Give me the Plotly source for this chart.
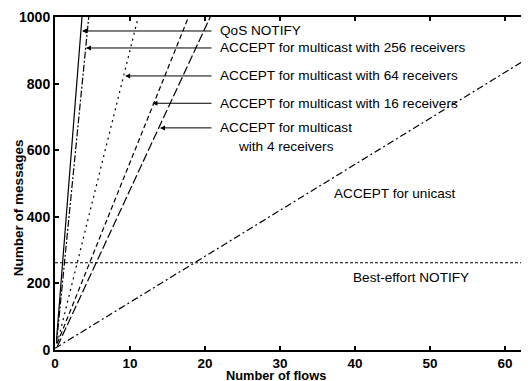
import plotly.graph_objects as go

# Data (Number of flows vs Number of messages)
qos_x = [0.2, 3.6]
qos_y = [30, 1000]
m256_x = [0.2, 4.5]
m256_y = [20, 1000]
m64_x = [0.3, 11.1]
m64_y = [20, 1000]
m16_x = [0.3, 17.8]
m16_y = [20, 1000]
m4_x = [0.3, 20.7]
m4_y = [10, 1000]
uni_x = [0, 63.2]
uni_y = [5, 878]
be_x = [0, 63.2]
be_y = [262, 262]

x_ticks = [0, 10, 20, 30, 40, 50, 60]
y_ticks = [0, 200, 400, 600, 800, 1000]

FONT = "Liberation Sans, Arial, sans-serif"

fig = go.Figure()
series = [
    (qos_x, qos_y, "solid"),
    (m256_x, m256_y, "7px,2px,2px,2px"),
    (m64_x, m64_y, "2px,4px"),
    (m16_x, m16_y, "5px,3px"),
    (m4_x, m4_y, "9px,3px"),
    (uni_x, uni_y, "7px,3px,2px,3px"),
    (be_x, be_y, "3px,2px"),
]
for xs, ys, dash in series:
    fig.add_trace(go.Scatter(x=xs, y=ys, mode="lines",
                             line=dict(color="black", width=1.2, dash=dash),
                             showlegend=False, hoverinfo="skip"))

# arrows: (head_x, head_y, tail_x)
arrows = [
    (3.6, 958, 21.07),
    (4.13, 907, 21.07),
    (9.35, 823, 21.07),
    (13.0, 741, 21.07),
    (14.0, 667, 21.07),
]
for hx, hy, tx in arrows:
    fig.add_annotation(x=hx, y=hy, ax=tx, ay=hy, xref="x", yref="y",
                       axref="x", ayref="y", text="", showarrow=True,
                       arrowhead=2, arrowsize=1, arrowwidth=1, arrowcolor="black")

labels = [
    ("QoS NOTIFY", 21.7, 958, "left"),
    ("ACCEPT for multicast with 256 receivers", 21.7, 907, "left"),
    ("ACCEPT for multicast with 64 receivers", 21.7, 823, "left"),
    ("ACCEPT for multicast with 16 receivers", 21.7, 741, "left"),
    ("ACCEPT for multicast", 30.8, 667, "center"),
    ("with 4 receivers", 30.8, 610, "center"),
    ("ACCEPT for unicast", 45.3, 471, "center"),
    ("Best-effort NOTIFY", 47.5, 219, "center"),
]
for t, x, y, anc in labels:
    fig.add_annotation(x=x, y=y, xref="x", yref="y", text=t, showarrow=False,
                       xanchor=anc, yanchor="middle",
                       font=dict(family=FONT, size=13.6, color="black"))

# axis titles
fig.add_annotation(x=0, y=426, xref="paper", yref="y", xshift=-37,
                   text="Number of messages", textangle=-90, showarrow=False,
                   xanchor="center", yanchor="middle",
                   font=dict(family=FONT, size=13.5, color="black", weight="bold"))
fig.add_annotation(x=29.5, y=0, xref="x", yref="paper", yshift=-25,
                   text="Number of flows", showarrow=False,
                   xanchor="center", yanchor="middle",
                   font=dict(family=FONT, size=12.8, color="black", weight="bold"))

# page body has an 8px default margin; compensate so the plot lands where the reference has it
fig.update_layout(
    width=521, height=373,
    margin=dict(l=47, r=0, t=9, b=31, autoexpand=False),
    paper_bgcolor="white", plot_bgcolor="white",
    xaxis=dict(range=[0, 63.2], tickvals=x_ticks, ticks="inside", ticklen=4,
               tickwidth=1.5, tickcolor="black", showline=True, linecolor="black",
               linewidth=2, mirror="ticks", showgrid=False, zeroline=False,
               automargin=False,
               tickfont=dict(family=FONT, size=13.5, color="black", weight="bold")),
    yaxis=dict(range=[0, 1000], tickvals=y_ticks, ticks="inside", ticklen=4,
               tickwidth=1.5, tickcolor="black", showline=True, linecolor="black",
               linewidth=2, showgrid=False, zeroline=False, automargin=False,
               tickfont=dict(family=FONT, size=14, color="black", weight="bold")),
)

fig.write_html("out.html")
